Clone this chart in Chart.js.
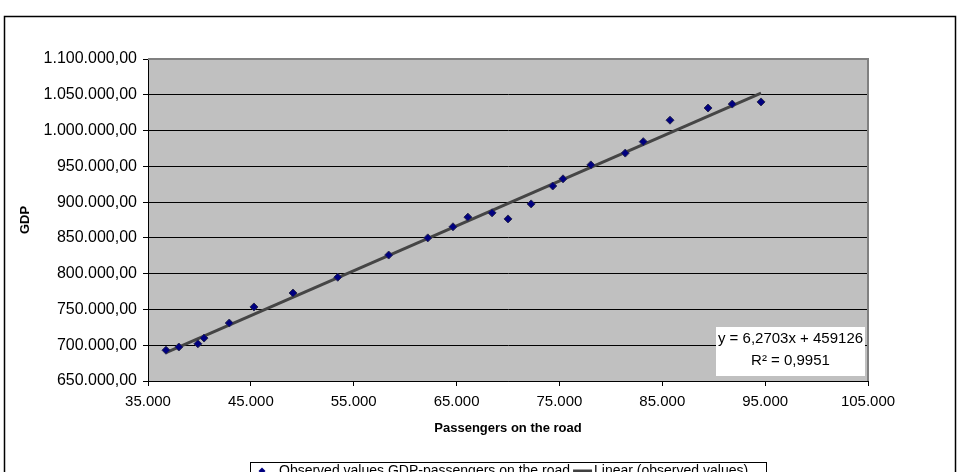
<!DOCTYPE html>
<html>
<head>
<meta charset="utf-8">
<script src="https://cdn.jsdelivr.net/npm/chart.js@4/dist/chart.umd.min.js"></script>
<style>
  html, body { margin: 0; padding: 0; background: #fff; }
  canvas { display: block; }
</style>
</head>
<body>
<canvas id="chart" width="960" height="472"></canvas>
<script>
// values
const passengers = [36750, 38000, 39850, 40450, 42900, 45300, 49100, 53450, 58400, 62200, 64650, 66100,
                    68450, 70000, 72250, 74350, 75350, 78050, 81400, 83150, 85750, 89450, 91800, 94600];
const gdp = [693000, 697500, 702000, 710000, 731000, 753500, 773000, 795000, 826000, 850000, 865500, 879000,
             885000, 876500, 897500, 922500, 932500, 952000, 968500, 984500, 1014500, 1031500, 1037000, 1040000];

// ends of the linear trend line, as drawn
const trendX = [36750, 94600];
const trendY = [689600, 1052300];

const trendEquation = 'y = 6,2703x + 459126';
const trendR2 = 'R\u00B2 = 0,9951';

const seriesLabel = 'Observed values GDP-passengers on the road';
const trendLabel = 'Linear (observed values)';
const xTitle = 'Passengers on the road';
const yTitle = 'GDP';

const FONT = "'Liberation Sans', Arial, sans-serif";

function thousands(n) {
	return String(Math.round(n)).replace(/\B(?=(\d{3})+(?!\d))/g, '.');
}

const pointData = passengers.map((x, i) => ({x: x, y: gdp[i]}));
const trendData = trendX.map((x, i) => ({x: x, y: trendY[i]}));

const decor = {
	id: 'decor',
	beforeDraw(chart) {
		const ctx = chart.ctx;
		const a = chart.chartArea;
		ctx.save();
		ctx.fillStyle = '#fff';
		ctx.fillRect(0, 0, chart.width, chart.height);
		// outer frame
		ctx.strokeStyle = '#000';
		ctx.lineWidth = 1.5;
		ctx.strokeRect(4.5, 16.5, 951, 480);
		// plot background
		ctx.fillStyle = '#c0c0c0';
		ctx.fillRect(a.left, a.top, a.right - a.left, a.bottom - a.top);
		ctx.restore();
	},
	afterDraw(chart) {
		const ctx = chart.ctx;
		const a = chart.chartArea;
		ctx.save();
		// plot frame on top/right
		ctx.strokeStyle = '#808080';
		ctx.lineWidth = 2;
		ctx.beginPath();
		ctx.moveTo(a.left, a.top);
		ctx.lineTo(a.right, a.top);
		ctx.lineTo(a.right, a.bottom);
		ctx.stroke();

		// trend equation box
		const bx = a.right - 152, by = a.bottom - 54, bw = 149, bh = 49;
		ctx.fillStyle = '#fff';
		ctx.fillRect(bx, by, bw, bh);
		ctx.fillStyle = '#000';
		ctx.font = '15px ' + FONT;
		ctx.textAlign = 'center';
		ctx.textBaseline = 'middle';
		ctx.fillText(trendEquation, bx + bw / 2, by + 12);
		ctx.fillText(trendR2, bx + bw / 2, by + 34);

		// legend
		const lx = 250, ly = 462, lw = 516;
		ctx.strokeStyle = '#000';
		ctx.lineWidth = 1;
		ctx.strokeRect(lx + 0.5, ly + 0.5, lw, 30);
		const cy = 471;
		ctx.fillStyle = '#000080';
		ctx.beginPath();
		ctx.moveTo(262, cy - 3.5);
		ctx.lineTo(265.5, cy);
		ctx.lineTo(262, cy + 3.5);
		ctx.lineTo(258.5, cy);
		ctx.closePath();
		ctx.fill();
		ctx.fillStyle = '#000';
		ctx.font = '14px ' + FONT;
		ctx.textAlign = 'left';
		ctx.fillText(seriesLabel, 279, cy);
		const w = ctx.measureText(seriesLabel).width;
		ctx.strokeStyle = '#404040';
		ctx.lineWidth = 3;
		ctx.beginPath();
		ctx.moveTo(279 + w + 3, cy);
		ctx.lineTo(279 + w + 22, cy);
		ctx.stroke();
		ctx.fillText(trendLabel, 279 + w + 24, cy);
		ctx.restore();
	}
};

new Chart(document.getElementById('chart'), {
	type: 'scatter',
	data: {
		datasets: [
			{
				label: seriesLabel,
				data: pointData,
				pointStyle: 'rectRot',
				pointRadius: 4,
				backgroundColor: '#000080',
				borderColor: '#2a2a50',
				borderWidth: 1,
				order: 0,
			},
			{
				type: 'line',
				label: trendLabel,
				data: trendData,
				borderColor: '#454545',
				borderWidth: 3,
				pointRadius: 0,
				fill: false,
				order: 1,
			},
		]
	},
	options: {
		responsive: false,
		animation: false,
		devicePixelRatio: 1,
		layout: {
			padding: {left: 5, top: 59, right: 92, bottom: 36}
		},
		plugins: {
			legend: {display: false},
			tooltip: {enabled: false},
		},
		scales: {
			x: {
				type: 'linear',
				min: 35000,
				max: 105000,
				afterFit: scale => { scale.height = 55; },
				ticks: {
					stepSize: 10000,
					padding: 7,
					color: '#000',
					font: {family: FONT, size: 15},
					callback: value => thousands(value),
				},
				grid: {
					drawOnChartArea: false,
					drawTicks: true,
					tickLength: 5,
					color: '#000',
				},
				border: {color: '#000', width: 1},
				title: {
					display: true,
					text: xTitle,
					color: '#000',
					font: {family: FONT, size: 13, weight: 'bold'},
					padding: {top: 0, bottom: 0},
				},
			},
			y: {
				type: 'linear',
				min: 650000,
				max: 1100000,
				afterFit: scale => { scale.width = 143; },
				ticks: {
					stepSize: 50000,
					padding: 6,
					color: '#000',
					font: {family: FONT, size: 16},
					callback: value => thousands(value) + ',00',
				},
				grid: {
					color: ctx => (ctx.tick && ctx.tick.value === 1100000) ? '#808080' : '#000',
					lineWidth: 1,
					tickLength: 5,
					tickColor: '#000',
				},
				border: {color: '#000', width: 1},
				title: {
					display: true,
					text: yTitle,
					color: '#000',
					font: {family: FONT, size: 13, weight: 'bold'},
					padding: {top: 13, bottom: 0},
				},
			},
		},
	},
	plugins: [decor],
});
</script>
</body>
</html>
